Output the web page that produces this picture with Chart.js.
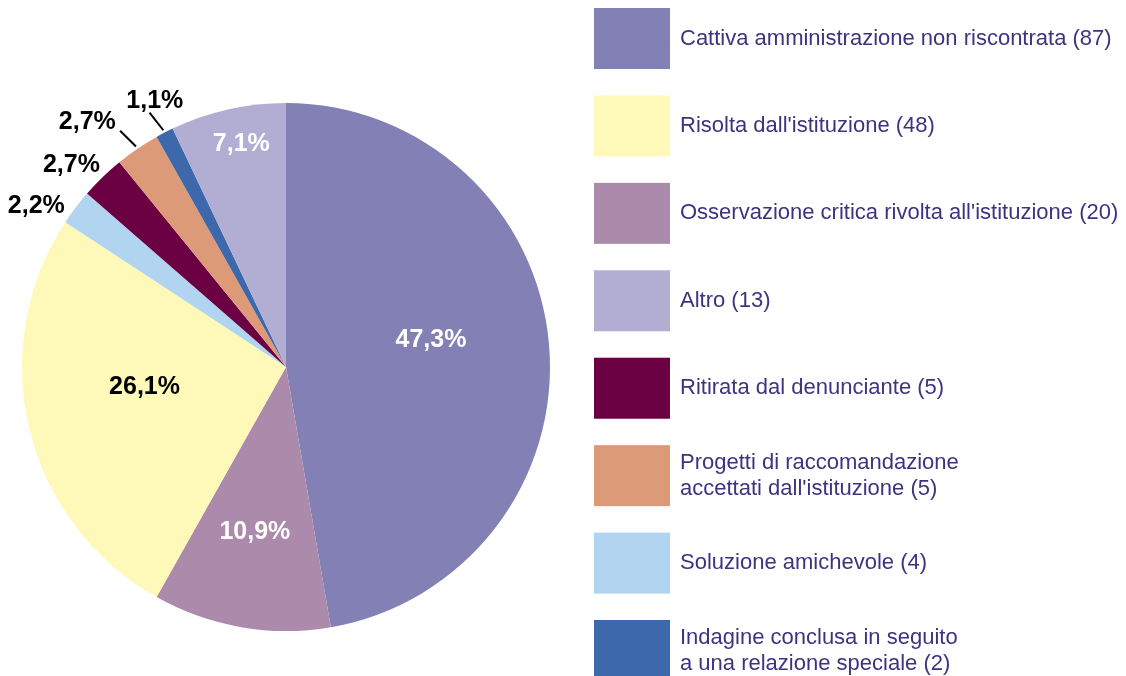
<!DOCTYPE html>
<html>
<head>
<meta charset="utf-8">
<script src="https://cdn.jsdelivr.net/npm/chart.js@4/dist/chart.umd.min.js"></script>
<style>
    html, body { margin: 0; padding: 0; background: #fff; overflow: hidden; }
    #wrap { width: 1126px; height: 676px; position: relative; }
</style>
</head>
<body>
<div id="wrap"><canvas id="pieChart"></canvas></div>
<script>
// slices in drawing order, clockwise from 12 o'clock
const categories = [
    'Cattiva amministrazione non riscontrata',
    'Osservazione critica rivolta all\'istituzione',
    'Risolta dall\'istituzione',
    'Soluzione amichevole',
    'Ritirata dal denunciante',
    'Progetti di raccomandazione\naccettati dall\'istituzione',
    'Indagine conclusa in seguito\na una relazione speciale',
    'Altro',
];
const counts = [87, 20, 48, 4, 5, 5, 2, 13];
const sliceColors = ['#8280b5', '#ab8aab', '#fef9b9', '#b1d4f0', '#6b0042', '#dc9a78', '#3d68ab', '#b2aed3'];

// legend lists the categories in a different order than the slices
const legendOrder = [0, 2, 1, 7, 4, 5, 3, 6];

// percentage label placement: radius as a fraction of the pie radius, small angle nudge in degrees
const labelRadius = [0.56, 0.63, 0.54, 1.13, 1.12, 1.2, 1.13, 0.87];
const labelNudge = [-6.5, 1, 6.5, -4, -2.5, -4.6, 1.3, 1.5];
const labelColor = ['#fff', '#fff', '#000', '#000', '#000', '#000', '#000', '#fff'];
// leader lines for the two crowded slices: tilt (deg) relative to the slice middle, null = none
const leaderTilt = [null, null, null, null, null, -10.8, -10.6, null];

const total = counts.reduce((a, b) => a + b, 0);
const pct = v => (v / total * 100).toFixed(1).replace('.', ',') + '%';
const rad = d => d * Math.PI / 180;

const sliceLabels = {
    id: 'sliceLabels',
    afterDatasetsDraw(chart) {
        const { ctx } = chart;
        const arcs = chart.getDatasetMeta(0).data;
        ctx.save();
        ctx.font = 'bold 25px "Liberation Sans", Arial, sans-serif';
        ctx.textAlign = 'center';
        ctx.textBaseline = 'middle';
        arcs.forEach((arc, i) => {
            const { x, y, startAngle, endAngle, outerRadius } = arc.getProps(['x', 'y', 'startAngle', 'endAngle', 'outerRadius'], true);
            const mid = (startAngle + endAngle) / 2;
            if (leaderTilt[i] !== null) {
                const sx = x + Math.cos(mid) * outerRadius * 1.01;
                const sy = y + Math.sin(mid) * outerRadius * 1.01;
                const dir = mid + rad(leaderTilt[i]);
                const len = outerRadius * 0.085;
                ctx.strokeStyle = '#000';
                ctx.lineWidth = 2;
                ctx.beginPath();
                ctx.moveTo(sx, sy);
                ctx.lineTo(sx + Math.cos(dir) * len, sy + Math.sin(dir) * len);
                ctx.stroke();
            }
            const a = mid + rad(labelNudge[i]);
            const r = outerRadius * labelRadius[i];
            ctx.fillStyle = labelColor[i];
            ctx.fillText(pct(counts[i]), x + Math.cos(a) * r, y + Math.sin(a) * r + 2);
        });
        ctx.restore();
    }
};

const boxLegend = {
    id: 'boxLegend',
    afterDraw(chart) {
        const { ctx } = chart;
        ctx.save();
        ctx.font = '22px "Liberation Sans", Arial, sans-serif';
        ctx.textAlign = 'left';
        ctx.textBaseline = 'middle';
        legendOrder.forEach((idx, k) => {
            const top = 8 + k * 87.43;
            ctx.fillStyle = sliceColors[idx];
            ctx.fillRect(594, top, 76, 61);
            const lines = (categories[idx] + ' (' + counts[idx] + ')').split('\n');
            const cy = top + 30.5;
            ctx.fillStyle = '#3c3481';
            lines.forEach((ln, j) => {
                ctx.fillText(ln, 680, cy + (j - (lines.length - 1) / 2) * 26);
            });
        });
        ctx.restore();
    }
};

new Chart(document.getElementById('pieChart'), {
    type: 'pie',
    data: {
        labels: categories,
        datasets: [{
            data: counts,
            backgroundColor: sliceColors,
            borderWidth: 0,
        }]
    },
    options: {
        responsive: true,
        maintainAspectRatio: false,
        animation: false,
        layout: { padding: { left: 22, right: 576, top: 103, bottom: 45 } },
        plugins: {
            legend: { display: false },
            tooltip: { enabled: false },
        }
    },
    plugins: [sliceLabels, boxLegend]
});
</script>
</body>
</html>
